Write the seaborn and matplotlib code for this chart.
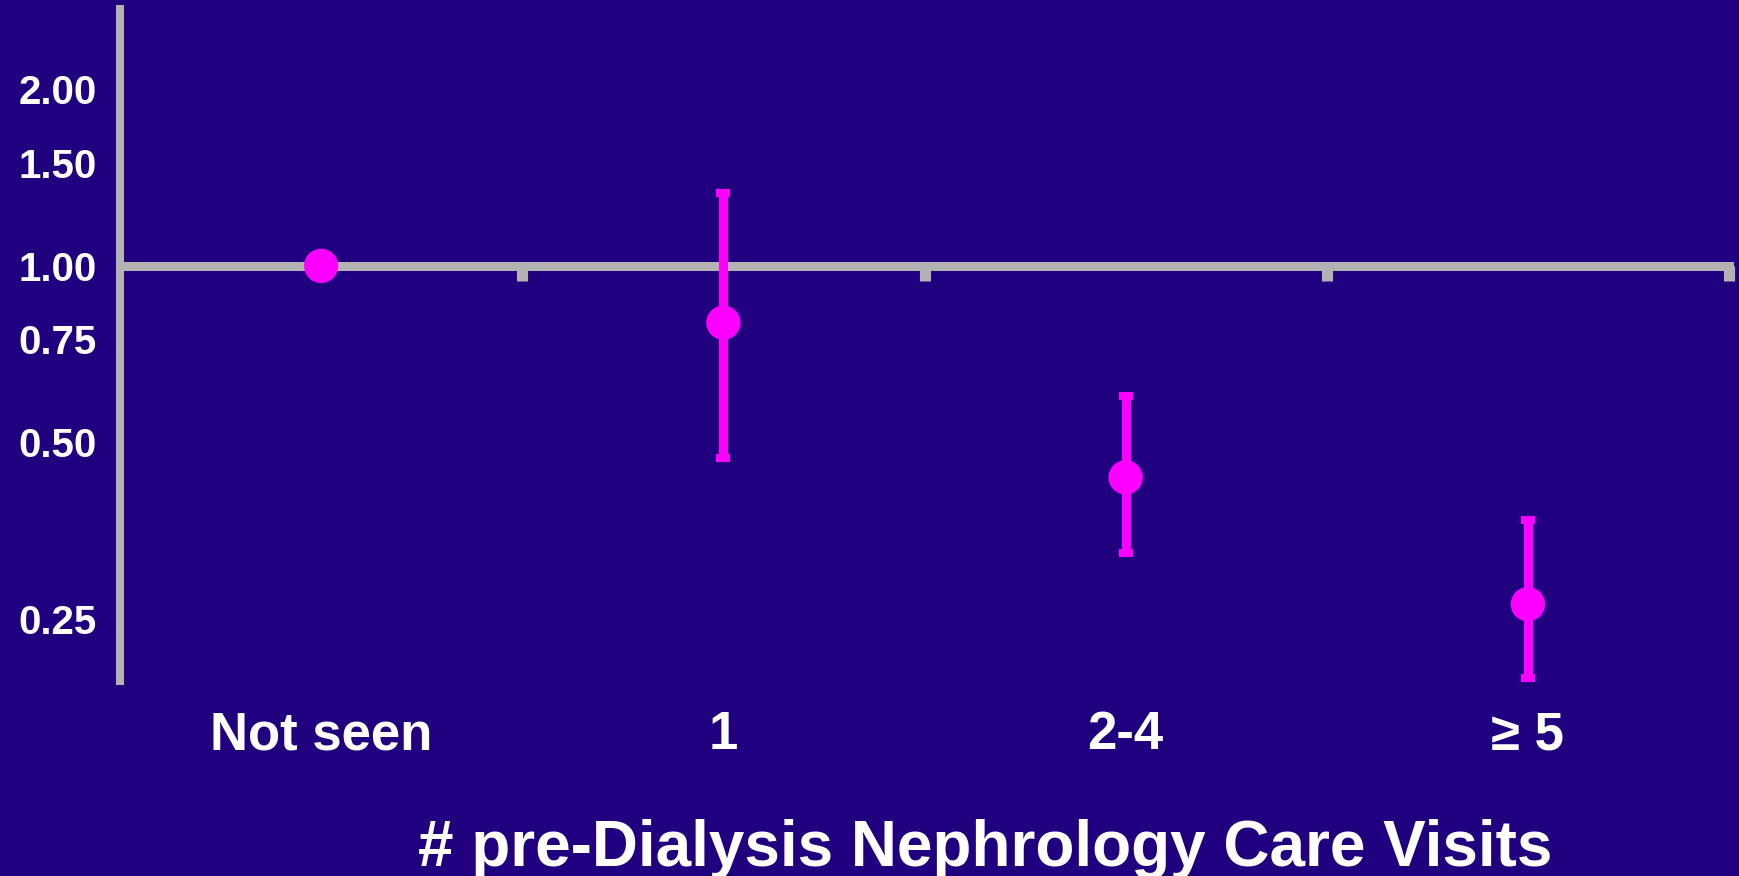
import matplotlib
matplotlib.use("Agg")
import matplotlib.pyplot as plt
from matplotlib.ticker import FixedLocator, FormatStrFormatter, NullLocator
import seaborn as sns
import pandas as pd

# values (hazard ratio vs visits)
categories = ["Not seen", "1", "2-4", "\u2265 5"]
estimate = [1.00, 0.80, 0.436, 0.265]
lower_ci = [1.00, 0.47, 0.324, 0.198]
upper_ci = [1.00, 1.33, 0.60, 0.369]
y_ticks = [0.25, 0.50, 0.75, 1.00, 1.50, 2.00]

bg = "#21007f"
grey = "#b2b2b2"
pink = "#ff00ff"

sns.set_style("white")
plt.rcParams["font.family"] = ["Liberation Sans", "DejaVu Sans"]
plt.rcParams["font.weight"] = "bold"

df = pd.DataFrame({"cat": categories, "est": estimate,
                   "lo": lower_ci, "hi": upper_ci})
df["pos"] = range(len(df))

fig = plt.figure(figsize=(17.4, 8.76), dpi=100, facecolor=bg)
ax = fig.add_axes([0.069, 0.2226, 0.9247, 0.767])
ax.set_facecolor(bg)
ax.set_yscale("log")
ax.set_ylim(0.196, 2.74)
ax.set_xlim(-0.5, 3.5)

# confidence intervals
ax.errorbar(df["pos"], df["est"],
            yerr=[df["est"] - df["lo"], df["hi"] - df["est"]],
            fmt="none", ecolor=pink, elinewidth=6.5, capsize=4.7, capthick=5.8,
            zorder=3)
sns.scatterplot(data=df, x="pos", y="est", color=pink, s=610,
                edgecolor="none", ax=ax, zorder=4, legend=False)

# y axis
for side in ["top", "right", "bottom"]:
    ax.spines[side].set_visible(False)
ax.spines["left"].set_color(grey)
ax.spines["left"].set_linewidth(5.8)
ax.yaxis.set_major_locator(FixedLocator(y_ticks))
ax.yaxis.set_major_formatter(FormatStrFormatter("%.2f"))
ax.yaxis.set_minor_locator(NullLocator())
ax.tick_params(axis="y", colors=grey, direction="inout", length=10, width=1,
               pad=12, labelsize=29, labelcolor="white")

# x labels at the bottom
ax.set_xticks(df["pos"])
ax.set_xticklabels(categories)
ax.tick_params(axis="x", length=0, pad=21, labelsize=38, labelcolor="white")
ax.set_xlabel("# pre-Dialysis Nephrology Care Visits", fontsize=46,
              color="white", fontweight="bold")
ax.xaxis.set_label_coords(0.5376, -0.205)
ax.set_ylabel("")

# reference line at 1.0 with separator ticks
ref = ax.secondary_xaxis(1.0, transform=ax.transData)
ref.spines["top"].set_color(grey)
ref.spines["top"].set_linewidth(6.5)
ref.set_xticks([0.5, 1.5, 2.5, 3.5])
ref.set_xticklabels([])
ref.tick_params(axis="x", direction="in", length=10.5, width=8, colors=grey)

fig.savefig("out.png", dpi=100, facecolor=bg)
